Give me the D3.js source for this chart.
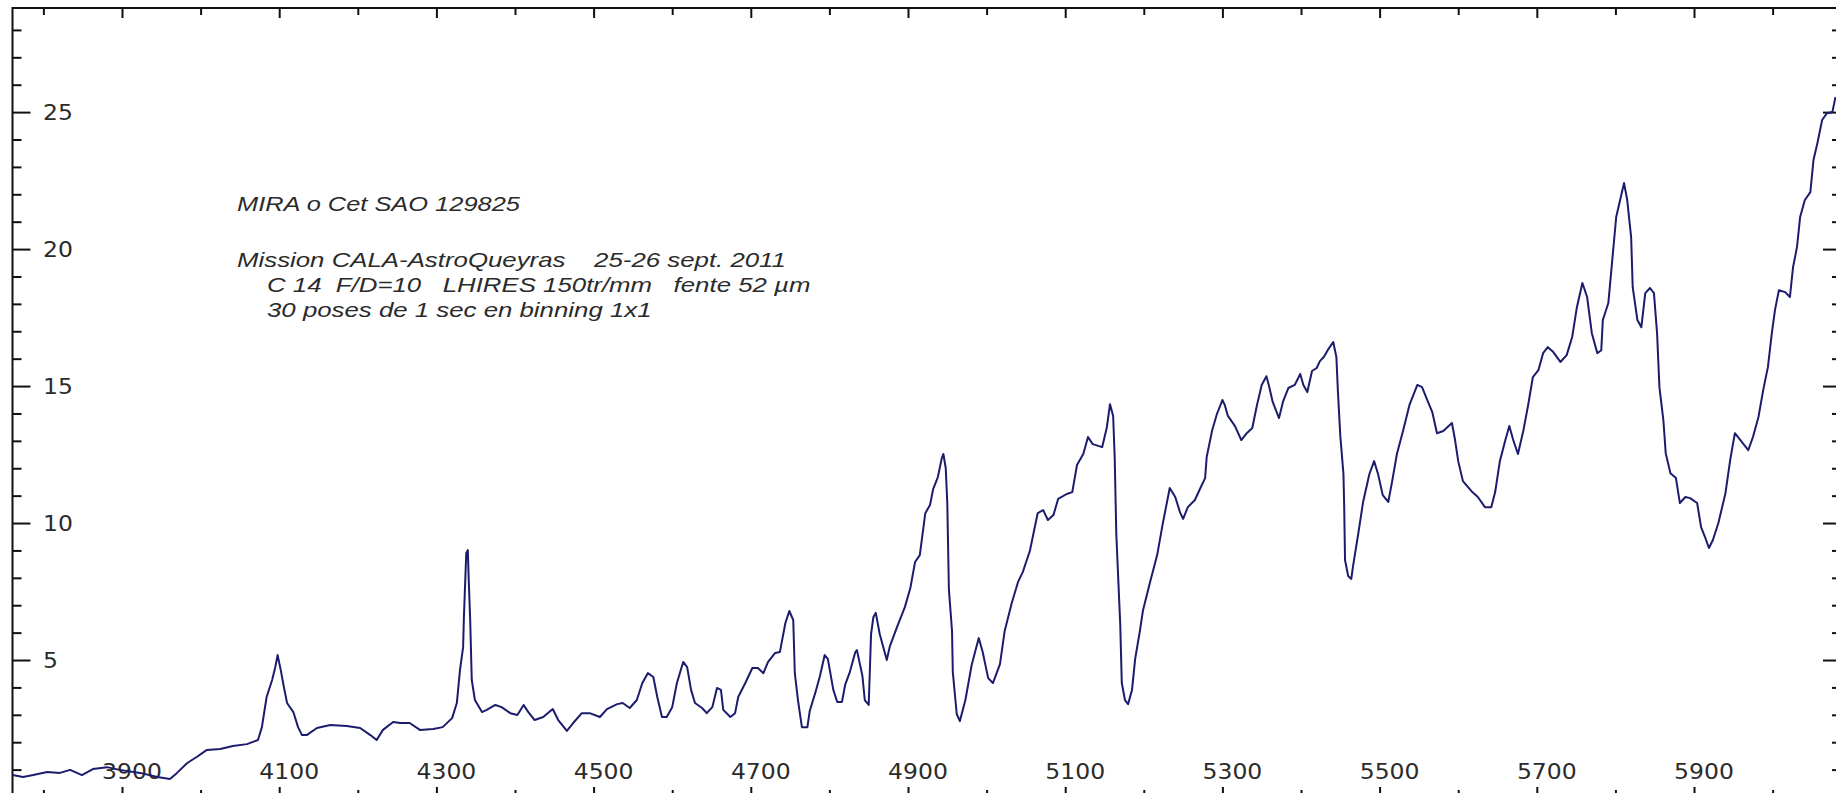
<!DOCTYPE html>
<html>
<head>
<meta charset="utf-8">
<script src="https://cdn.jsdelivr.net/npm/d3@7"></script>
<style>
  html, body { margin: 0; padding: 0; background: #fff; overflow: hidden; }
  svg { display: block; }
  text { white-space: pre; }
</style>
</head>
<body>
<svg id="chart" width="1836" height="793"></svg>
<script>
// Mira (o Ceti) spectrum, relative flux versus wavelength in angstroms
const wavelength = [
  3761, 3774, 3787, 3805, 3821, 3834, 3849, 3863, 3881, 3897, 3923, 3945, 3961, 3970, 3983, 3995,
  4008, 4025, 4041, 4059, 4073, 4078, 4084, 4091, 4095, 4098, 4102, 4106, 4110, 4118, 4124, 4129,
  4135, 4148, 4165, 4186, 4203, 4216, 4224, 4232, 4245,
  4254, 4266, 4279, 4296, 4308, 4320, 4326, 4330, 4334, 4335, 4338, 4340, 4341, 4343, 4345, 4349,
  4358, 4364, 4375, 4383, 4394, 4403, 4411, 4417, 4425, 4436, 4448, 4455, 4466, 4474, 4485, 4495,
  4508, 4517, 4530, 4537, 4546, 4555, 4562, 4569, 4576, 4581, 4587, 4593, 4600, 4606, 4614, 4619,
  4624, 4629, 4638, 4644, 4651, 4657, 4662, 4665, 4674, 4680, 4684, 4693, 4702, 4709, 4716, 4722,
  4731, 4737, 4744, 4749, 4754, 4756, 4760, 4765, 4772,
  4775, 4782, 4788, 4794, 4798, 4805, 4810, 4816, 4820, 4826, 4833, 4835, 4842, 4845, 4850, 4853,
  4856, 4859, 4864, 4873, 4877, 4886, 4896, 4903, 4909, 4915, 4922, 4928, 4932, 4938, 4943, 4945,
  4948, 4950, 4952, 4956, 4957, 4962, 4966, 4973, 4981, 4990, 4995, 5002, 5008, 5017, 5023, 5032,
  5040, 5046, 5055, 5065, 5072, 5078, 5085, 5091, 5102, 5109, 5115, 5123, 5129, 5135, 5147, 5153,
  5157, 5161, 5163, 5165, 5170, 5172, 5176, 5180, 5185, 5189, 5195, 5199, 5208, 5217, 5224,
  5233, 5240, 5246, 5250, 5256, 5265, 5272, 5278, 5280, 5287, 5293, 5300, 5303, 5307, 5316, 5324,
  5331, 5338, 5344, 5350, 5356, 5359, 5364, 5372, 5377, 5384, 5392, 5399, 5403, 5408, 5414, 5420,
  5424, 5429, 5434, 5441, 5445, 5447, 5450, 5454, 5455, 5456, 5460, 5464, 5466, 5473, 5479, 5487,
  5493, 5498, 5504, 5511, 5516, 5522, 5530, 5538, 5548, 5554, 5560, 5567, 5573, 5581, 5592, 5596,
  5600, 5606, 5618, 5625, 5634, 5642, 5647, 5653, 5660, 5665, 5670, 5676, 5683, 5689,
  5695, 5702, 5708, 5714, 5721, 5730, 5738, 5745, 5751, 5758, 5764, 5770, 5777, 5782, 5784, 5791,
  5796, 5801, 5806, 5811, 5815, 5820, 5822, 5828, 5833, 5838, 5844, 5849, 5853, 5856, 5861, 5864,
  5870, 5877, 5882, 5889, 5895, 5904, 5909, 5914, 5919, 5924, 5931, 5940, 5946, 5952, 5959, 5969,
  5975, 5982, 5988, 5994, 5999, 6003, 6008, 6016, 6022, 6026, 6031, 6035, 6041, 6048, 6052, 6057,
  6063, 6069, 6076, 6080
];

const flux = [
  0.80, 0.73, 0.80, 0.91, 0.88, 0.99, 0.80, 1.02, 1.09, 0.99, 0.88, 0.73, 0.66, 0.88, 1.24, 1.46,
  1.72, 1.75, 1.86, 1.93, 2.08, 2.55, 3.65, 4.27, 4.74, 5.18, 4.63, 4.01, 3.43, 3.10, 2.55, 2.26,
  2.26, 2.52, 2.63, 2.59, 2.52, 2.26, 2.08, 2.45, 2.74,
  2.70, 2.70, 2.45, 2.48, 2.55, 2.88, 3.43, 4.63, 5.47, 6.57, 8.91, 9.01, 8.03, 6.46, 4.27, 3.54,
  3.10, 3.18, 3.36, 3.28, 3.06, 2.99, 3.36, 3.10, 2.81, 2.92, 3.21, 2.81, 2.41, 2.70, 3.06, 3.06,
  2.92, 3.21, 3.39, 3.43, 3.25, 3.54, 4.16, 4.52, 4.38, 3.65, 2.92, 2.92, 3.28, 4.16, 4.93, 4.74,
  3.91, 3.43, 3.25, 3.06, 3.28, 3.98, 3.91, 3.18, 2.92, 3.06, 3.65, 4.16, 4.71, 4.71, 4.52, 4.93,
  5.26, 5.29, 6.35, 6.79, 6.46, 4.52, 3.54, 2.55, 2.55,
  3.14, 3.80, 4.42, 5.18, 5.04, 3.91, 3.47, 3.47, 4.09, 4.56, 5.29, 5.36, 4.42, 3.54, 3.36, 5.95,
  6.57, 6.72, 5.95, 5.00, 5.51, 6.20, 6.93, 7.63, 8.58, 8.83, 10.36, 10.66, 11.24, 11.68, 12.37, 12.52,
  12.01, 10.73, 7.59, 6.06, 4.56, 3.03, 2.77, 3.54, 4.82, 5.80, 5.29, 4.34, 4.16, 4.85, 6.06, 7.08,
  7.85, 8.21, 8.98, 10.36, 10.47, 10.11, 10.29, 10.88, 11.06, 11.13, 12.12, 12.52, 13.14, 12.88, 12.77, 13.50,
  14.34, 13.91, 12.37, 9.60, 6.31, 4.16, 3.54, 3.39, 3.91, 5.04, 6.06, 6.82, 7.85, 8.83, 9.96,
  11.28, 10.95, 10.40, 10.15, 10.58, 10.84, 11.28, 11.64, 12.41, 13.39, 13.98, 14.49, 14.31, 13.91, 13.54, 13.03,
  13.28, 13.47, 14.31, 15.04, 15.36, 15.04, 14.42, 13.83, 14.42, 14.93, 15.04, 15.44, 15.04, 14.78, 15.55, 15.66,
  15.91, 16.06, 16.31, 16.61, 16.06, 14.78, 13.18, 11.79, 10.51, 8.65, 8.07, 7.96, 8.39, 9.64, 10.77, 11.79,
  12.26, 11.79, 11.02, 10.77, 11.53, 12.52, 13.39, 14.31, 15.04, 14.96, 14.53, 14.05, 13.28, 13.36, 13.65, 13.03,
  12.26, 11.53, 11.13, 10.95, 10.58, 10.58, 11.13, 12.26, 13.03, 13.54, 13.03, 12.52, 13.39, 14.31,
  15.33, 15.58, 16.20, 16.42, 16.24, 15.88, 16.13, 16.79, 17.88, 18.76, 18.25, 16.93, 16.20, 16.31, 17.41, 18.03,
  19.60, 21.17, 21.79, 22.41, 21.79, 20.44, 18.61, 17.41, 17.15, 18.39, 18.58, 18.39, 16.93, 14.96, 13.76, 12.55,
  11.82, 11.64, 10.73, 10.95, 10.91, 10.73, 9.85, 9.49, 9.09, 9.38, 10.00, 11.09, 12.30, 13.28, 13.03, 12.66,
  13.14, 13.87, 14.85, 15.69, 16.93, 17.77, 18.50, 18.43, 18.25, 19.34, 20.07, 21.17, 21.79, 22.08, 23.25, 23.87,
  24.71, 24.96, 25.00, 25.55
];

// Axis ticks
const xLabelTicks = [3900, 4100, 4300, 4500, 4700, 4900, 5100, 5300, 5500, 5700, 5900];
const xMinorTicks = [3800, 4000, 4200, 4400, 4600, 4800, 5000, 5200, 5400, 5600, 5800, 6000];
const yLabelTicks = [5, 10, 15, 20, 25];
const yMinorTicks = [1, 2, 3, 4, 6, 7, 8, 9, 11, 12, 13, 14, 16, 17, 18, 19, 21, 22, 23, 24, 26, 27, 28];

// Annotation block
const noteTitle = "MIRA o Cet SAO 129825";
const noteLines = [
  "Mission CALA-AstroQueyras    25-26 sept. 2011",
  "C 14  F/D=10   LHIRES 150tr/mm   fente 52 µm",
  "30 poses de 1 sec en binning 1x1"
];

const svg = d3.select("#chart");
const frame = { left: 12.5, right: 1841, top: 8, bottom: 797 };

const x = d3.scaleLinear().domain([3760.7, 6087]).range([frame.left, frame.right]);
const y = d3.scaleLinear().domain([0, 28.8]).range([frame.bottom, frame.top]);

svg.append("rect").attr("width", 1836).attr("height", 793).attr("fill", "#fff");

// Tick marks on all four sides, drawn inward
function ticks(axis, tx, ty) {
  const g = svg.append("g").attr("transform", `translate(${tx},${ty})`).call(axis);
  g.select(".domain").remove();
  g.selectAll(".tick text").remove();
  g.selectAll(".tick line").attr("stroke", "#111").attr("stroke-width", 2);
  return g;
}
ticks(d3.axisBottom(x).tickValues(xLabelTicks).tickSize(10), 0, frame.top);
ticks(d3.axisBottom(x).tickValues(xMinorTicks).tickSize(7), 0, frame.top);
ticks(d3.axisTop(x).tickValues(xLabelTicks).tickSize(10), 0, frame.bottom);
ticks(d3.axisTop(x).tickValues(xMinorTicks).tickSize(7), 0, frame.bottom);
ticks(d3.axisRight(y).tickValues(yLabelTicks).tickSize(18), frame.left, 0);
ticks(d3.axisRight(y).tickValues(yMinorTicks).tickSize(9), frame.left, 0);
ticks(d3.axisLeft(y).tickValues(yLabelTicks).tickSize(18), frame.right, 0);
ticks(d3.axisLeft(y).tickValues(yMinorTicks).tickSize(9), frame.right, 0);

// Frame
svg.append("rect")
  .attr("x", frame.left).attr("y", frame.top)
  .attr("width", frame.right - frame.left).attr("height", frame.bottom - frame.top)
  .attr("fill", "none").attr("stroke", "#111").attr("stroke-width", 2);

// Tick labels (inside the frame)
const labelFont = "'DejaVu Sans', Verdana, sans-serif";
svg.append("g").selectAll("text").data(xLabelTicks).join("text")
  .attr("transform", d => `translate(${x(d) + 10},779) scale(1.12,1)`)
  .attr("text-anchor", "middle")
  .attr("font-family", labelFont).attr("font-size", 21).attr("fill", "#2b2b2b")
  .text(d => d);

svg.append("g").selectAll("text").data(yLabelTicks).join("text")
  .attr("transform", d => `translate(43,${y(d) + 8}) scale(1.12,1)`)
  .attr("font-family", labelFont).attr("font-size", 21).attr("fill", "#2b2b2b")
  .text(d => d);

// Spectrum
svg.append("clipPath").attr("id", "plot-clip").append("rect")
  .attr("x", frame.left).attr("y", frame.top)
  .attr("width", frame.right - frame.left).attr("height", frame.bottom - frame.top);

const line = d3.line().x(d => x(d[0])).y(d => y(d[1]));
svg.append("path")
  .datum(d3.zip(wavelength, flux))
  .attr("clip-path", "url(#plot-clip)")
  .attr("fill", "none")
  .attr("stroke", "#1c1c6e")
  .attr("stroke-width", 2)
  .attr("stroke-linejoin", "round")
  .attr("d", line);

// Observation notes
const noteFont = "'Liberation Sans', Arial, sans-serif";
const notes = svg.append("g")
  .attr("font-family", noteFont).attr("font-style", "italic")
  .attr("font-size", 20.5).attr("fill", "#2b2b2b");
notes.append("text")
  .attr("transform", "translate(237,211) scale(1.24,1)")
  .text(noteTitle);
notes.selectAll("text.line").data(noteLines).join("text")
  .attr("class", "line")
  .attr("transform", (d, i) => `translate(${i === 0 ? 237 : 267},${267 + i * 25}) scale(1.26,1)`)
  .text(d => d);
</script>
</body>
</html>
